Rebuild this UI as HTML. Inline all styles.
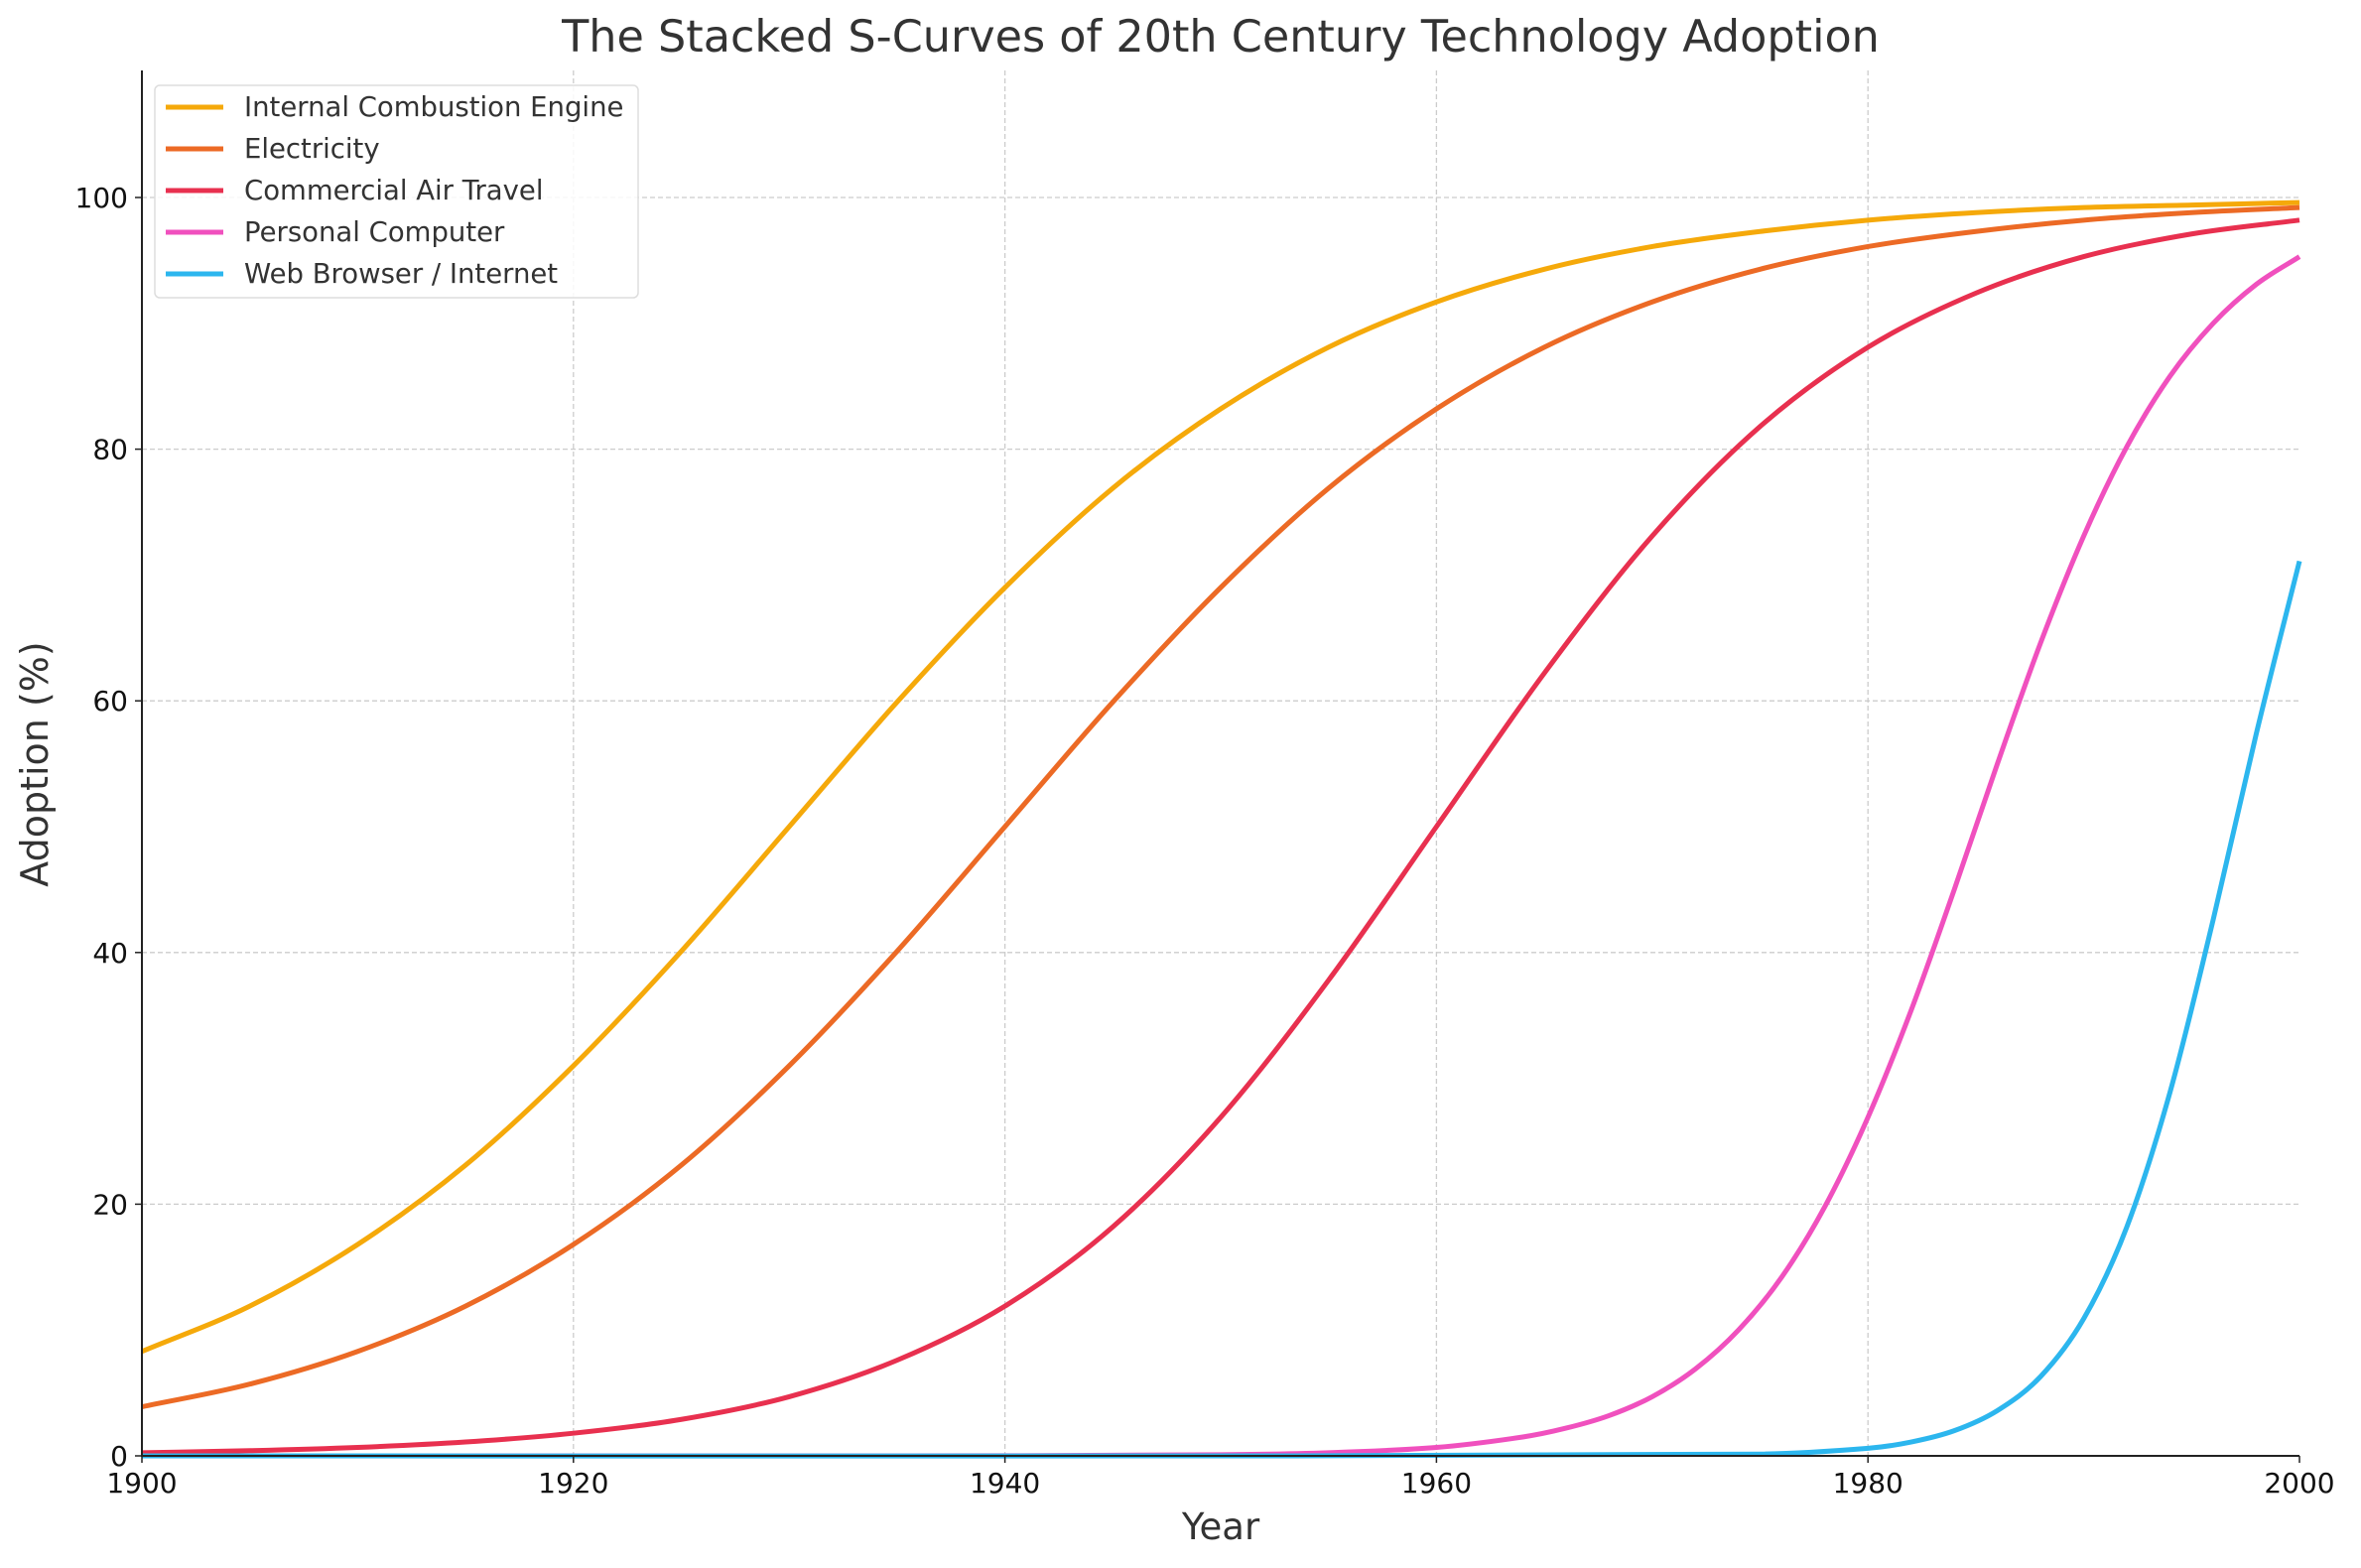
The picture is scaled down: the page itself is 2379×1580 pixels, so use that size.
<!DOCTYPE html>
<html><head><meta charset="utf-8"><style>
html,body{margin:0;padding:0;background:#fff;}
svg{display:block;font-family:"DejaVu Sans","Liberation Sans",sans-serif;}
</style></head><body>
<svg id="chart" width="2379" height="1580" viewBox="0 0 2379 1580" xmlns="http://www.w3.org/2000/svg">
<rect width="2379" height="1580" fill="#fff"/>
<g id="grid"></g>
<g id="series"></g>
<g id="axes"></g>
<text x="1230" y="52" font-size="44.5" fill="#333" text-anchor="middle">The Stacked S-Curves of 20th Century Technology Adoption</text>
<text x="1230" y="1551" font-size="37" fill="#333" text-anchor="middle">Year</text>
<text transform="translate(48,770) rotate(-90)" font-size="38" fill="#333" text-anchor="middle">Adoption (%)</text>
<g id="legend"></g>
</svg>
<script>
const seriesNames = ["Internal Combustion Engine","Electricity","Commercial Air Travel","Personal Computer","Web Browser / Internet"];
const seriesColors = ["#F5A90A","#EC6A25","#E8304F","#F050BE","#2CB6EE"];
const years5 = [1900,1905,1910,1915,1920,1925,1930,1935,1940,1945,1950,1955,1960,1965,1970,1975,1980,1985,1990,1995,2000];
const iceValues = [8.3,11.9,16.8,23.1,31.0,40.1,50,59.9,69.0,76.9,83.2,88.1,91.7,94.3,96.1,97.3,98.2,98.8,99.2,99.4,99.6];
const elecValues = [3.9,5.7,8.3,11.9,16.8,23.1,31.0,40.1,50,59.9,69.0,76.9,83.2,88.1,91.7,94.3,96.1,97.3,98.2,98.8,99.2];
const airValues = [0.25,0.41,0.67,1.1,1.8,2.9,4.7,7.6,11.9,18.2,26.9,37.8,50,62.2,73.1,81.8,88.1,92.4,95.3,97.1,98.2];
const pcYears = [1900,1930,1940,1950,1955,1960,1964,1966,1968,1970,1972,1974,1976,1978,1980,1982,1984,1986,1988,1990,1992,1994,1996,1998,2000];
const pcValues = [0,0,0.01,0.09,0.25,0.67,1.5,2.2,3.2,4.7,6.9,10.0,14.2,19.8,26.9,35.4,45.0,55.0,64.6,73.1,80.2,85.8,90.0,93.1,95.3];
const webYears = [1900,1950,1975,1980,1982,1984,1986,1988,1990,1992,1994,1996,1998,2000];
const webValues = [0,0,0.14,0.6,1.1,2.0,3.6,6.3,10.9,18.2,28.9,42.6,57.4,71.1];
const xTicks = [1900,1920,1940,1960,1980,2000];
const yTicks = [0,20,40,60,80,100];

const X0=143, X1=2317, Y0=1467, Y100=199;
const xs = y => X0 + (y-1900)/100*(X1-X0);
const ys = v => Y0 - v/100*(Y0-Y100);
const NS="http://www.w3.org/2000/svg";
function mk(tag, attrs, parent){const e=document.createElementNS(NS,tag);for(const k in attrs)e.setAttribute(k,attrs[k]);parent.appendChild(e);return e;}
const grid=document.getElementById('grid'), axes=document.getElementById('axes'), ser=document.getElementById('series'), leg=document.getElementById('legend');
xTicks.forEach(t=>{
  if(t>1900&&t<2000){const l=mk('line',{x1:xs(t),x2:xs(t),y1:71,y2:Y0,stroke:'#ccc','stroke-width':1.3,'stroke-dasharray':'5,3'},grid);
  
  }
  const tk=mk('line',{x1:xs(t),x2:xs(t),y1:Y0,y2:Y0+7,stroke:'#222','stroke-width':1.5},axes);
  
  
  const tx=mk('text',{x:xs(t),y:Y0+37,'font-size':28,fill:'#111','text-anchor':'middle'},axes);
  
  
  tx.textContent=t;
});
yTicks.forEach(t=>{
  if(t>0){const l=mk('line',{x1:X0,x2:X1,y1:ys(t),y2:ys(t),stroke:'#ccc','stroke-width':1.3,'stroke-dasharray':'5,3'},grid);
  
  }
  const tk=mk('line',{x1:X0-7,x2:X0,y1:ys(t),y2:ys(t),stroke:'#222','stroke-width':1.5},axes);
  
  
  const tx=mk('text',{x:X0-14,y:ys(t)+10,'font-size':28,fill:'#111','text-anchor':'end'},axes);
  
  
  tx.textContent=t;
});
const ax=mk('path',{d:`M${X0},71 L${X0},${Y0} L${X1},${Y0}`,fill:'none',stroke:'#222','stroke-width':2},axes);



function smooth(xsArr, vals){
  const p=xsArr.map((x,i)=>[xs(x),ys(vals[i])]);
  let d=`M${p[0][0]},${p[0][1]}`;
  for(let i=0;i<p.length-1;i++){
    const a=p[i-1]||p[i], b=p[i], c=p[i+1], e=p[i+2]||c;
    const dx=c[0]-b[0];
    const t1=(c[1]-a[1])/(c[0]-a[0]||1), t2=(e[1]-b[1])/(e[0]-b[0]||1);
    d+=` C${b[0]+dx/3},${b[1]+t1*dx/3} ${c[0]-dx/3},${c[1]-t2*dx/3} ${c[0]},${c[1]}`;
  }
  return d;
}
const data=[[years5,iceValues],[years5,elecValues],[years5,airValues],[pcYears,pcValues],[webYears,webValues]];
const keys=['ice','electricity','air-travel','personal-computer','web-browser'];
data.forEach((s,i)=>{
  const p=mk('path',{d:smooth(s[0],s[1]),fill:'none',stroke:seriesColors[i],'stroke-width':5,'stroke-linejoin':'round'},ser);
  
  
});
const box=mk('rect',{x:156,y:86,width:487,height:214,rx:5,fill:'#fff','fill-opacity':0.85,stroke:'#ddd','stroke-width':1.5},leg);


seriesNames.forEach((n,i)=>{
  const y=108+i*42;
  const l=mk('line',{x1:167,x2:225,y1:y,y2:y,stroke:seriesColors[i],'stroke-width':5},leg);
  
  
  const t=mk('text',{x:246,y:y+9,'font-size':27.5,fill:'#333'},leg);
  
  
  t.textContent=n;
});
</script>
</body></html>
